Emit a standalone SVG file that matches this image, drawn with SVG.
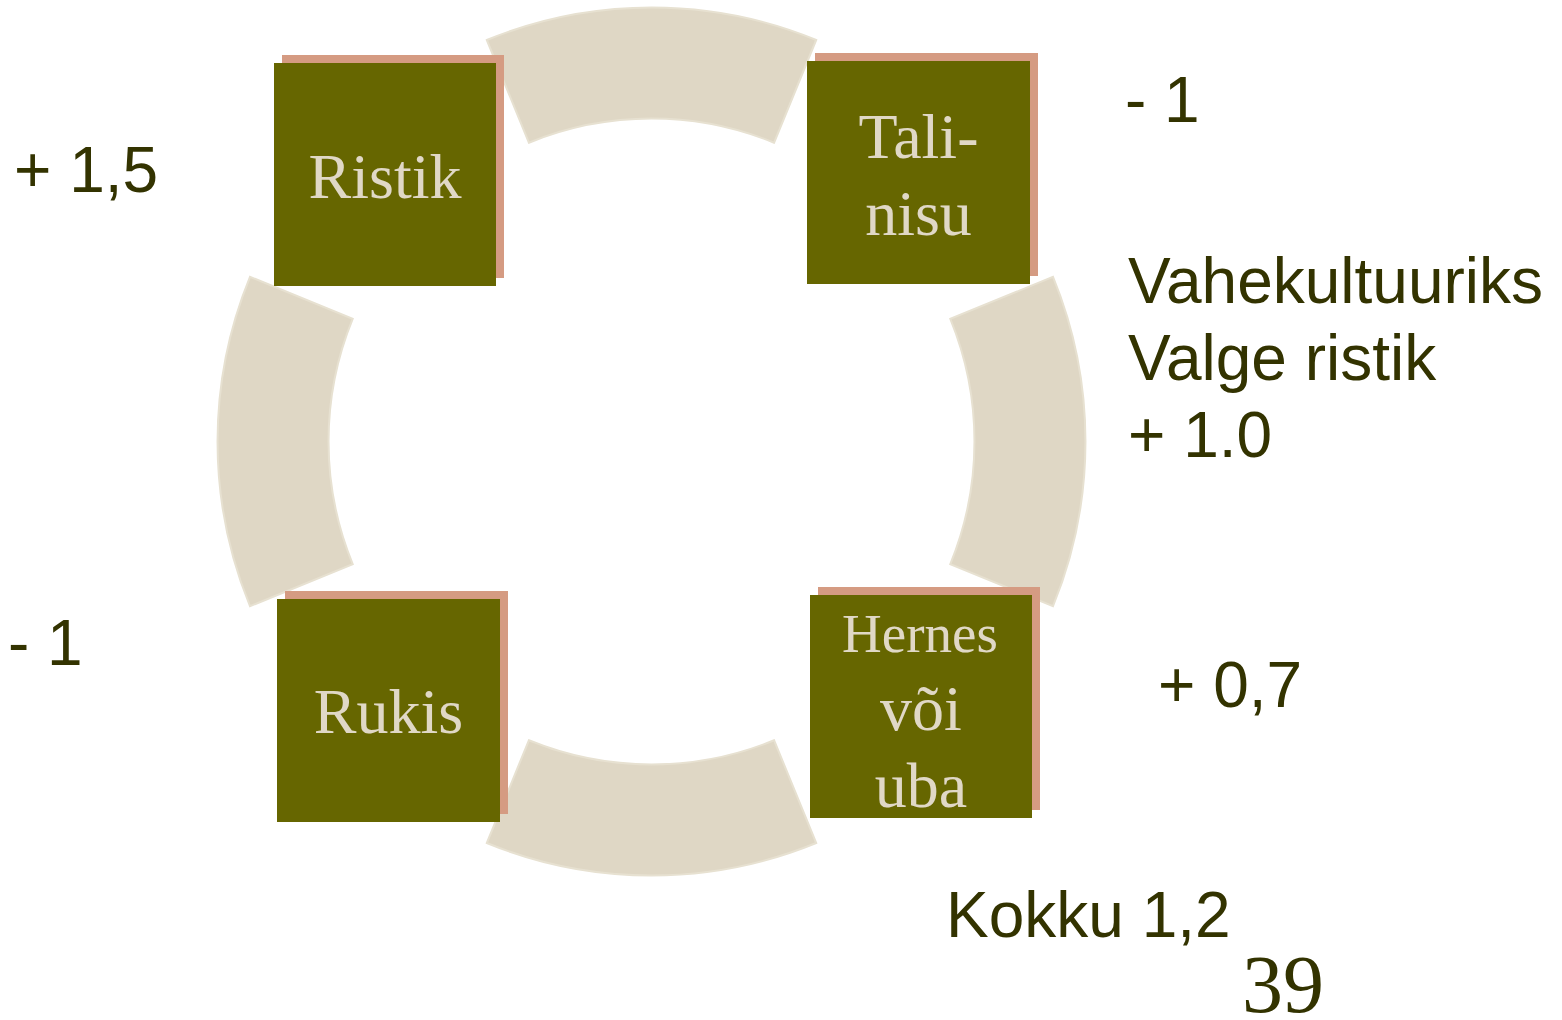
<svg xmlns="http://www.w3.org/2000/svg" width="1562" height="1020" viewBox="0 0 1562 1020">
<style>
.seg{fill:#DFD7C5;stroke:#E7E1D1;stroke-width:2}
.shadow{fill:#D59B82}
.box{fill:#666600}
.bt{font-family:"Liberation Serif","Times New Roman",serif;font-size:64px;fill:#E0D8C6;text-anchor:middle}
.lb{font-family:"Liberation Sans",Arial,sans-serif;font-size:64px;fill:#333300}
</style>
<rect width="1562" height="1020" fill="#FFFFFF"/>
<g id="connectors">
<path class="seg" d="M486.8,40 A434,434 0 0 1 816.2,40 L774.1,142.7 A323,323 0 0 0 528.9,142.7 Z"/>
<path class="seg" d="M1053,276.8 A434,434 0 0 1 1053,606.2 L950.3,564.1 A323,323 0 0 0 950.3,318.9 Z"/>
<path class="seg" d="M816.2,843 A434,434 0 0 1 486.8,843 L528.9,740.3 A323,323 0 0 0 774.1,740.3 Z"/>
<path class="seg" d="M250,606.2 A434,434 0 0 1 250,276.8 L352.7,318.9 A323,323 0 0 0 352.7,564.1 Z"/>
</g>
<g id="ristik">
<rect class="shadow" x="282" y="55" width="222" height="223"/>
<rect class="box" x="274" y="63" width="222" height="223"/>
<text class="bt" x="385" y="198">Ristik</text>
</g>
<g id="talinisu">
<rect class="shadow" x="815" y="53" width="223" height="223"/>
<rect class="box" x="807" y="61" width="223" height="223"/>
<text class="bt" x="918.5" y="158">Tali-</text>
<text class="bt" x="918.5" y="235">nisu</text>
</g>
<g id="rukis">
<rect class="shadow" x="285" y="591" width="223" height="223"/>
<rect class="box" x="277" y="599" width="223" height="223"/>
<text class="bt" x="388.5" y="733">Rukis</text>
</g>
<g id="hernes">
<rect class="shadow" x="818" y="587" width="222" height="223"/>
<rect class="box" x="810" y="595" width="222" height="223"/>
<text class="bt" x="920" y="652" style="font-size:55px">Hernes</text>
<text class="bt" x="921" y="730">või</text>
<text class="bt" x="921" y="807">uba</text>
</g>
<g id="labels">
<text class="lb" x="14" y="192">+ 1,5</text>
<text class="lb" x="1125" y="122">- 1</text>
<text class="lb" x="1128" y="303">Vahekultuuriks</text>
<text class="lb" x="1128" y="380">Valge ristik</text>
<text class="lb" x="1128" y="457">+ 1.0</text>
<text class="lb" x="8" y="665">- 1</text>
<text class="lb" x="1158" y="707">+ 0,7</text>
<text class="lb" x="946" y="937">Kokku 1,2</text>
<text x="1242" y="1012" style="font-family:'Liberation Serif','Times New Roman',serif;font-size:82px;fill:#333300">39</text>
</g>
</svg>
